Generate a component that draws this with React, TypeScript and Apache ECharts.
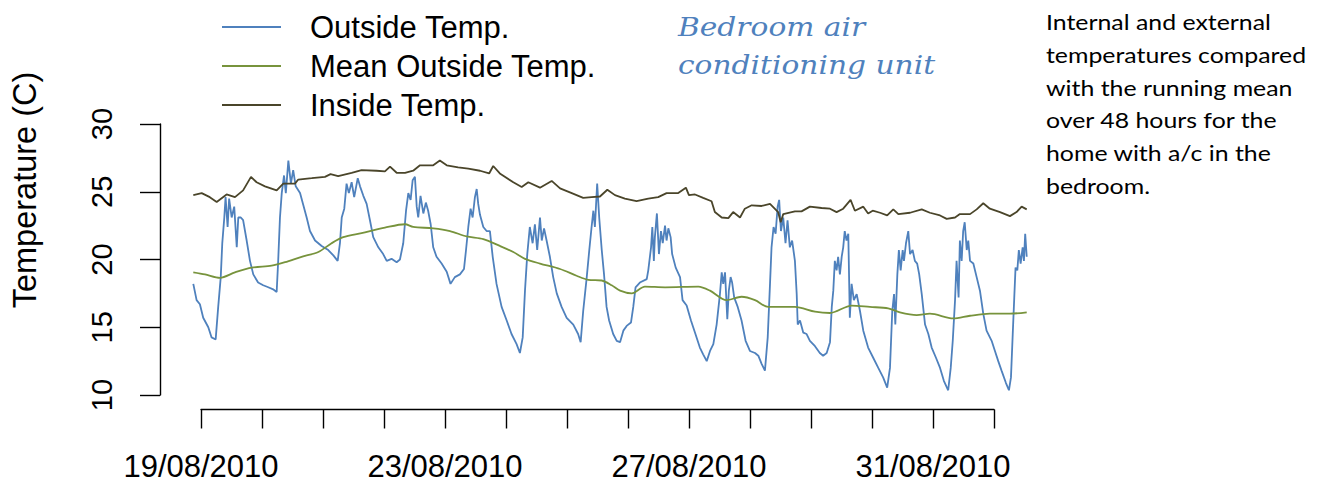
import React, { useEffect, useRef } from "react";
import * as echarts from "echarts";

// Hours since 19/08/2010 00:00, temperature (C)
const outsideTemp: [number, number][] = [
  [-3.0,18.2],[-1.7,17.0],[-0.4,16.7],[0.9,15.7],[2.9,15.0],[4.2,14.25],[5.8,14.1],[6.8,16.5],[7.8,18.7],[8.4,21.2],[9.2,23.1],[9.7,24.6],[10.5,22.4],[11.1,24.5],[12.1,23.1],[13.1,23.9],[14.1,20.9],[14.7,23.1],[15.7,23.1],[16.6,22.9],[18.0,21.4],[19.3,19.9],[20.6,18.9],[22.5,18.3],[24.5,18.1],[26.5,17.95],[28.4,17.8],[29.8,17.6],[30.4,19.9],[31.1,23.1],[31.8,24.9],[32.7,26.2],[33.4,24.9],[34.4,27.3],[35.4,25.6],[36.3,26.6],[37.3,25.4],[39.0,24.9],[40.3,24.0],[41.6,23.1],[42.9,22.1],[44.9,21.4],[47.5,21.0],[50.1,20.7],[52.1,20.3],[53.8,19.9],[54.7,21.2],[55.4,23.1],[56.4,23.75],[57.3,25.6],[58.2,24.9],[59.3,25.7],[60.3,24.6],[61.7,26.0],[62.6,25.4],[63.9,24.7],[65.2,24.1],[66.5,22.9],[67.8,21.65],[69.8,20.9],[71.7,20.4],[73.1,19.9],[75.0,20.05],[77.0,19.8],[78.3,20.0],[79.6,21.2],[80.7,23.6],[81.6,24.9],[82.5,24.4],[83.3,25.85],[84.2,26.1],[84.9,23.9],[85.5,23.1],[86.4,24.7],[87.5,23.4],[88.5,24.2],[89.4,23.6],[90.4,22.6],[91.4,20.9],[92.7,20.2],[94.7,19.7],[96.7,19.1],[98.2,18.2],[99.9,18.7],[101.9,18.9],[103.5,19.3],[104.3,20.7],[105.2,22.4],[106.1,23.75],[106.9,23.1],[107.8,24.6],[108.5,25.2],[109.1,24.1],[109.8,23.3],[111.1,22.4],[112.4,22.1],[113.7,22.1],[114.8,20.2],[116.3,18.2],[118.3,16.5],[120.3,15.5],[122.2,14.5],[124.2,13.75],[125.5,13.1],[126.6,14.25],[127.5,17.7],[128.4,20.4],[129.4,22.4],[130.5,21.2],[131.4,22.6],[132.3,20.7],[133.4,23.1],[134.1,21.4],[135.0,22.3],[136.0,21.4],[137.3,20.2],[138.6,18.7],[140.0,17.5],[141.9,16.5],[143.9,15.7],[146.5,15.2],[148.4,14.5],[149.4,13.9],[150.4,16.2],[151.8,18.7],[152.8,20.7],[153.7,22.4],[154.4,23.6],[155.0,22.4],[155.9,25.6],[156.7,23.1],[157.7,20.7],[158.6,18.9],[159.6,16.5],[160.6,15.5],[162.2,14.5],[163.6,14.0],[164.9,13.9],[166.2,14.75],[167.5,15.1],[169.2,15.35],[170.1,16.5],[171.0,17.95],[172.7,18.3],[175.4,18.55],[176.0,19.2],[177.1,20.9],[177.6,22.4],[178.2,19.9],[178.6,21.65],[179.4,23.4],[180.2,20.4],[181.0,22.1],[181.7,21.2],[182.6,22.5],[183.2,21.4],[183.9,22.3],[184.8,21.65],[185.4,20.4],[186.8,19.4],[188.5,18.7],[189.5,17.0],[191.1,16.6],[192.8,15.5],[194.4,14.6],[196.3,13.5],[197.6,13.0],[199.0,12.5],[200.3,13.25],[201.6,13.75],[202.9,15.2],[204.2,17.45],[204.9,19.05],[205.5,18.2],[206.2,19.05],[207.1,15.6],[207.7,17.7],[208.4,18.7],[209.0,18.3],[209.8,17.2],[211.2,16.5],[212.7,15.5],[214.3,14.0],[216.0,13.25],[218.0,13.1],[219.3,12.9],[220.6,12.3],[221.9,11.8],[223.0,14.25],[223.9,18.2],[224.5,20.9],[225.3,22.4],[226.1,21.9],[226.9,23.9],[227.5,24.4],[228.2,22.1],[229.1,23.1],[230.0,21.2],[230.8,22.9],[231.7,20.9],[232.6,21.4],[233.7,19.9],[234.4,17.45],[234.8,15.2],[235.7,15.5],[237.0,14.6],[238.3,14.5],[239.6,14.0],[241.6,13.6],[243.5,13.1],[244.8,12.9],[246.2,13.1],[247.5,13.9],[248.2,16.5],[248.8,17.7],[249.4,19.9],[250.1,19.2],[250.7,20.2],[251.4,18.9],[252.1,20.2],[252.7,20.9],[253.3,22.1],[254.0,21.4],[254.7,21.9],[255.3,15.7],[256.0,18.2],[256.9,17.0],[258.0,17.45],[259.3,16.2],[260.6,14.75],[262.5,13.5],[264.5,12.75],[266.5,12.0],[268.4,11.3],[270.0,10.55],[271.1,12.0],[272.0,16.2],[272.7,17.45],[273.2,15.2],[274.0,18.9],[274.6,20.7],[275.3,19.2],[276.1,20.7],[276.6,19.9],[277.4,21.2],[278.3,22.1],[279.0,20.4],[280.0,20.7],[280.9,19.9],[281.8,19.7],[282.6,18.9],[283.6,17.45],[284.9,15.2],[286.2,14.5],[287.5,13.5],[289.2,12.75],[290.8,12.0],[292.3,11.05],[294.0,10.35],[295.0,12.0],[295.8,14.0],[296.7,17.0],[297.3,19.9],[298.1,17.2],[298.6,21.4],[299.3,19.9],[299.9,22.1],[300.5,22.75],[301.3,20.7],[301.9,21.4],[302.6,19.9],[303.9,19.7],[305.2,18.7],[306.5,17.7],[307.8,16.0],[309.1,14.75],[311.1,14.0],[312.4,13.25],[313.7,12.5],[315.0,11.8],[316.7,10.9],[317.9,10.35],[318.7,11.3],[319.4,14.5],[320.0,17.2],[320.5,19.4],[321.2,19.2],[321.8,20.7],[322.5,19.7],[323.3,20.9],[323.8,19.9],[324.3,21.9],[324.9,20.2],
];

const meanOutsideTemp: [number, number][] = [
  [-3.0,19.05],[1.6,18.9],[7.5,18.65],[13.4,19.05],[20.0,19.4],[27.8,19.55],[33.1,19.8],[39.6,20.2],[46.2,20.55],[51.4,21.2],[56.0,21.65],[63.2,21.95],[72.4,22.35],[80.3,22.6],[83.5,22.4],[91.4,22.3],[98.0,22.1],[104.5,21.7],[111.1,21.5],[117.6,21.0],[122.9,20.55],[127.5,20.05],[133.4,19.7],[141.3,19.3],[147.8,18.8],[152.4,18.5],[157.7,18.45],[161.6,18.1],[164.9,17.7],[169.5,17.5],[174.7,18.0],[182.6,17.95],[195.7,18.0],[200.3,17.7],[206.8,17.0],[212.7,17.25],[218.0,17.0],[223.2,16.5],[233.7,16.5],[241.6,16.15],[247.5,16.05],[256.0,16.6],[263.2,16.5],[270.4,16.4],[275.0,16.1],[281.6,15.9],[286.8,16.0],[296.0,15.65],[302.6,15.85],[310.4,16.0],[318.3,16.0],[324.9,16.1],
];

const insideTemp: [number, number][] = [
  [-3.0,24.75],[0.3,24.9],[3.5,24.6],[6.2,24.25],[10.1,24.8],[13.4,24.6],[16.6,25.1],[19.7,26.1],[21.9,25.7],[25.2,25.4],[29.8,25.1],[32.4,25.6],[37.0,25.6],[38.3,25.9],[43.6,26.0],[48.8,26.1],[51.0,26.3],[54.0,26.15],[59.3,26.4],[63.2,26.6],[69.1,26.55],[72.4,26.5],[74.4,26.85],[77.0,26.4],[80.3,26.4],[83.5,26.55],[86.2,26.95],[91.4,26.95],[94.0,27.3],[96.7,26.95],[101.2,26.8],[105.2,26.7],[109.8,26.55],[113.4,26.35],[115.0,26.9],[117.6,26.35],[122.9,25.7],[126.2,25.35],[128.8,25.7],[133.4,25.3],[138.0,25.8],[141.3,25.25],[145.9,24.9],[150.4,24.55],[153.7,24.6],[157.0,24.65],[159.9,25.15],[162.9,24.75],[166.8,24.5],[171.4,24.3],[176.0,24.5],[179.9,24.6],[183.2,24.9],[187.8,24.9],[190.8,25.3],[192.0,24.75],[194.4,24.8],[197.6,24.55],[200.9,24.3],[202.2,23.5],[204.9,23.1],[207.5,23.05],[209.4,23.5],[212.1,23.1],[214.0,23.75],[216.7,24.0],[220.6,23.95],[223.9,24.1],[227.1,23.5],[228.1,22.75],[229.1,23.35],[233.7,23.55],[236.3,23.55],[239.6,23.9],[244.2,23.8],[247.5,23.75],[250.1,23.5],[252.7,23.75],[255.6,24.4],[257.3,23.6],[260.6,23.9],[262.5,23.4],[264.3,23.6],[267.2,23.45],[270.0,23.25],[272.4,23.7],[274.4,23.35],[279.0,23.45],[283.6,23.7],[286.8,23.45],[290.8,23.25],[293.4,23.0],[296.7,23.1],[298.6,23.35],[302.6,23.35],[305.2,23.7],[307.8,24.15],[310.4,23.75],[314.4,23.5],[318.3,23.2],[320.9,23.5],[322.9,23.9],[324.9,23.7],
];

// One tick per day (19/08 .. 01/09), a label every fourth day
const xTickLabels = [
  "19/08/2010", "", "", "", "23/08/2010", "", "", "", "27/08/2010", "", "", "", "31/08/2010", "",
];
const yTicks = [10, 15, 20, 25, 30];
const seriesNames = ["Outside Temp.", "Mean Outside Temp.", "Inside Temp."];
const seriesColors = ["#4f81bd", "#77933c", "#4a452a"];
const yAxisTitle = "Temperature (C)";
const annotation = "Bedroom air\nconditioning unit";
const description =
  "Internal and external\ntemperatures compared\nwith the running mean\nover 48 hours for the\nhome with a/c in the\nbedroom.";

const SANS = "'Liberation Sans', Arial, Helvetica, sans-serif";

export default function App() {
  const ref = useRef<HTMLDivElement>(null);

  useEffect(() => {
    if (!ref.current) return;
    const chart = echarts.init(ref.current, undefined, { renderer: "svg" });
    const hoursPerDay = 24;
    const lastTick = (xTickLabels.length - 1) * hoursPerDay;
    const axisStyle = { color: "#000", width: 1.4 };

    chart.setOption({
      animation: false,
      backgroundColor: "#fff",
      grid: [
        { left: 160, right: 264, top: 124, height: 271 },
        { left: 201, width: 793, top: 399.5, height: 10 },
      ],
      xAxis: [
        { gridIndex: 0, type: "value", min: -16.1, max: 337.6, show: false },
        {
          gridIndex: 1,
          type: "value",
          min: 0,
          max: lastTick,
          interval: hoursPerDay,
          position: "bottom",
          axisLine: { show: true, onZero: false, lineStyle: axisStyle },
          axisTick: { show: true, length: 19, inside: false, lineStyle: axisStyle },
          splitLine: { show: false },
          axisLabel: {
            show: true,
            margin: 41,
            fontSize: 31,
            fontFamily: SANS,
            color: "#000",
            hideOverlap: false,
            showMinLabel: true,
            showMaxLabel: true,
            formatter: (v: number) => xTickLabels[Math.round(v / hoursPerDay)] ?? "",
          },
        },
      ],
      yAxis: [
        {
          gridIndex: 0,
          type: "value",
          min: yTicks[0],
          max: yTicks[yTicks.length - 1],
          interval: yTicks[1] - yTicks[0],
          axisLine: { show: true, onZero: false, lineStyle: axisStyle },
          axisTick: { show: true, length: 20, inside: false, lineStyle: axisStyle },
          splitLine: { show: false },
          axisLabel: {
            rotate: 90,
            margin: 44,
            fontSize: 29,
            fontFamily: SANS,
            color: "#000",
          },
        },
        { gridIndex: 1, type: "value", show: false },
      ],
      legend: {
        orient: "vertical",
        left: 222,
        top: 11.5,
        padding: 0,
        icon: "rect",
        itemWidth: 59,
        itemHeight: 2,
        itemGap: 8,
        data: seriesNames,
        textStyle: {
          fontSize: 31,
          lineHeight: 31,
          fontFamily: SANS,
          color: "#000",
          padding: [0, 0, 0, 24],
        },
      },
      series: [
        { name: seriesNames[0], data: outsideTemp, color: seriesColors[0] },
        { name: seriesNames[1], data: meanOutsideTemp, color: seriesColors[1], smooth: 0.3 },
        { name: seriesNames[2], data: insideTemp, color: seriesColors[2] },
      ].map((s) => ({
        type: "line",
        xAxisIndex: 0,
        yAxisIndex: 0,
        symbol: "none",
        showSymbol: false,
        lineStyle: { width: 1.8, color: s.color },
        itemStyle: { color: s.color },
        ...s,
      })),
      graphic: [
        {
          type: "text",
          x: 25,
          y: 190,
          rotation: Math.PI / 2,
          style: {
            text: yAxisTitle,
            fontSize: 32.5,
            fontFamily: SANS,
            fill: "#000",
            textAlign: "center",
            textVerticalAlign: "middle",
          },
        },
        {
          type: "text",
          x: 678,
          y: 8,
          scaleX: 1.12,
          style: {
            text: annotation,
            fontSize: 26.5,
            fontStyle: "italic",
            fontFamily: "'DejaVu Serif', 'Liberation Serif', serif",
            lineHeight: 38,
            fill: "#4f81bd",
            textAlign: "left",
            textVerticalAlign: "top",
          },
        },
        {
          type: "text",
          x: 1046,
          y: 5.6,
          scaleX: 1.13,
          style: {
            text: description,
            fontSize: 22,
            fontFamily: "Lato, 'Open Sans', sans-serif",
            lineHeight: 32.7,
            fill: "#000",
            textAlign: "left",
            textVerticalAlign: "top",
          },
        },
      ],
    });

    return () => chart.dispose();
  }, []);

  return (
    <div
      ref={ref}
      style={{ position: "absolute", left: 0, top: 0, width: 1323, height: 486 }}
    />
  );
}
